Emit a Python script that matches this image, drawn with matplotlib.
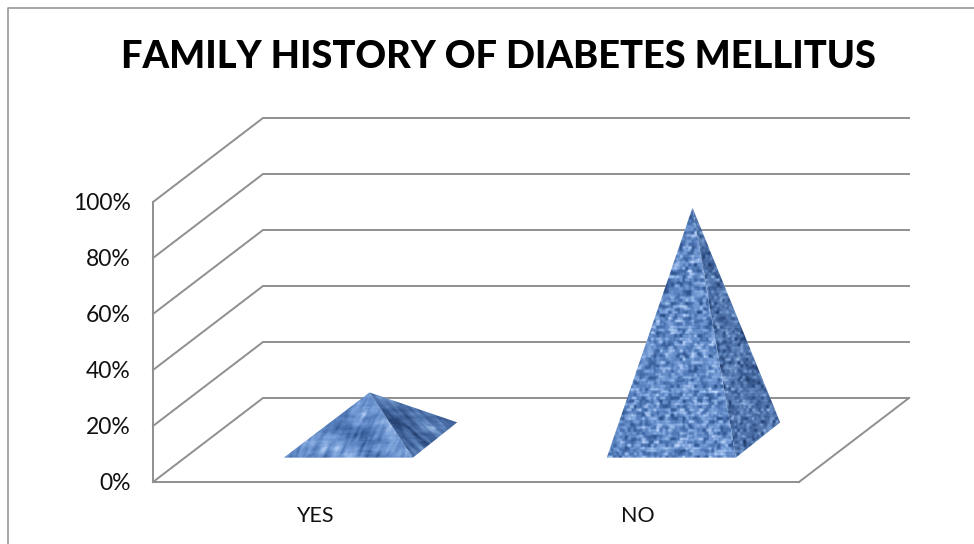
import numpy as np
import matplotlib
matplotlib.use('Agg')
import matplotlib.pyplot as plt
from matplotlib.colors import LinearSegmentedColormap
from matplotlib.patches import Polygon

categories = ['YES', 'NO']
values = [17, 83]
y_ticks = [0, 20, 40, 60, 80, 100]
y_labels = ['0%', '20%', '40%', '60%', '80%', '100%']
title = 'FAMILY HISTORY OF DIABETES MELLITUS'

GRID = '#8f8f8f'
# how far one unit of depth shifts things, in data units
DEPTH_X = 110 / 323
DEPTH_Y = 30
BAR_W = 0.4
BASE_D0, BASE_D1 = 0.29, 0.71
FRONT_SHIFT = 0.006

plt.rcParams['font.family'] = ['Lato', 'DejaVu Sans']

blues_front = LinearSegmentedColormap.from_list('front', ['#27497f', '#4f78b6', '#7ea4dc', '#c6dcfb'])
blues_side = LinearSegmentedColormap.from_list('side', ['#1d3664', '#3f6299', '#5f86bd', '#9dbce4'])


def project(x, y, d):
    return x + d * DEPTH_X, y + d * DEPTH_Y


def hash_noise(h, w, seed=0.0):
    yy, xx = np.mgrid[0:h, 0:w]
    v = np.sin(xx * 12.9898 + yy * 78.233 + seed) * 43758.5453
    return v - np.floor(v)


def smooth(a, ky, kx):
    for k, axis in ((ky, 0), (kx, 1)):
        if k > 1:
            kernel = np.ones(k) / k
            a = np.apply_along_axis(lambda r: np.convolve(np.r_[r, r, r], kernel, 'same')[len(r):2 * len(r)], axis, a)
    return a


def normalise(a):
    return (a - a.min()) / (a.max() - a.min())


def water(h, w, slant, seed):
    # long brush streaks: smooth along a sheared direction, with big soft patches on top
    a = hash_noise(h, w, seed)
    b = np.empty_like(a)
    for i in range(h):
        b[i] = np.roll(a[i], int(i * slant))
    b = normalise(smooth(b, 13, 3)) + 1.3 * normalise(smooth(hash_noise(h, w, seed + 2), 22, 22))
    for i in range(h):
        b[i] = np.roll(b[i], -int(i * slant))
    return normalise(smooth(b, 2, 2))


def woven(h, w, seed, cell_w=5, cell_h=3):
    # crossing stitches: short horizontal dashes over a thinner vertical weave
    cells = hash_noise(h // cell_h + 2, w // cell_w + 2, seed)
    yy, xx = np.mgrid[0:h, 0:w]
    offset = ((yy // cell_h) % 2) * (cell_w // 2)
    a = cells[yy // cell_h, (xx + offset) // cell_w]
    a = a * (0.6 + 0.4 * np.sin(np.pi * (yy % cell_h + 0.5) / cell_h))
    cross = hash_noise(h // 4 + 2, w // 3 + 2, seed + 7)[yy // 4, xx // 3]
    return normalise(smooth(a + 0.7 * cross, 2, 2))


def draw_face(ax, pts, tex, cmap):
    xs, ys = zip(*pts)
    im = ax.imshow(tex, cmap=cmap, extent=(min(xs), max(xs), min(ys), max(ys)), aspect='auto',
                   interpolation='bilinear', zorder=3, vmin=0, vmax=1)
    face = Polygon(pts, closed=True, transform=ax.transData, fc='none', ec='none')
    ax.add_patch(face)
    im.set_clip_path(face)
    im.set_clip_on(True)


fig = plt.figure(figsize=(9.74, 5.44), dpi=100)

# outer frame of the chart area
fig.add_artist(plt.Line2D([7.5 / 974, 7.5 / 974, 1], [0, 1 - 7.5 / 544, 1 - 7.5 / 544], color='#9a9a9a', lw=1.2))

ax = fig.add_axes([153 / 974, (544 - 482) / 544, 646 / 974, 280 / 544])
ax.patch.set_alpha(0)
for s in ('top', 'right'):
    ax.spines[s].set_visible(False)
for s in ('left', 'bottom'):
    ax.spines[s].set_color(GRID)
    ax.spines[s].set_linewidth(1.4)

# back wall and side wall gridlines
for t in y_ticks:
    x0, y0 = project(0, t, 1)
    x1, y1 = project(2, t, 1)
    ax.plot([0, x0, x1], [t, y0, y1], color=GRID, lw=1.4, clip_on=False, zorder=1)
# right edge of the floor
xf, yf = project(2, 0, 1)
ax.plot([2, xf], [0, yf], color=GRID, lw=1.4, clip_on=False, zorder=1)

for i, v in enumerate(values):
    c = i + 0.5
    fl = project(c - BAR_W / 2 + FRONT_SHIFT, 0, BASE_D0)
    fr = project(c + BAR_W / 2 + FRONT_SHIFT, 0, BASE_D0)
    br = project(c + BAR_W / 2, 0, BASE_D1)
    apex = project(c, v, 0.5)
    if i == 0:
        draw_face(ax, [fl, fr, apex], water(70, 135, 0.45, 1.0), blues_front)
        draw_face(ax, [fr, br, apex], water(70, 90, -1.0, 4.0), blues_side)
    else:
        draw_face(ax, [fl, fr, apex], woven(255, 135, 1.0), blues_front)
        draw_face(ax, [fr, br, apex], woven(255, 90, 5.0, 3, 3), blues_side)

ax.set_xlim(0, 2)
ax.set_ylim(0, 100)
ax.set_xticks([i + 0.5 for i in range(len(categories))], categories)
ax.set_yticks(y_ticks, y_labels)
ax.tick_params(axis='both', length=0, colors='#111111')
ax.tick_params(axis='y', pad=16, labelsize=16.5)
ax.tick_params(axis='x', pad=17, labelsize=15.5)

fig.text(498 / 974, 1 - 57 / 544, title, ha='center', va='center', fontsize=27.4, fontweight='black', color='black')

fig.savefig('out.png', dpi=100, facecolor='white')
